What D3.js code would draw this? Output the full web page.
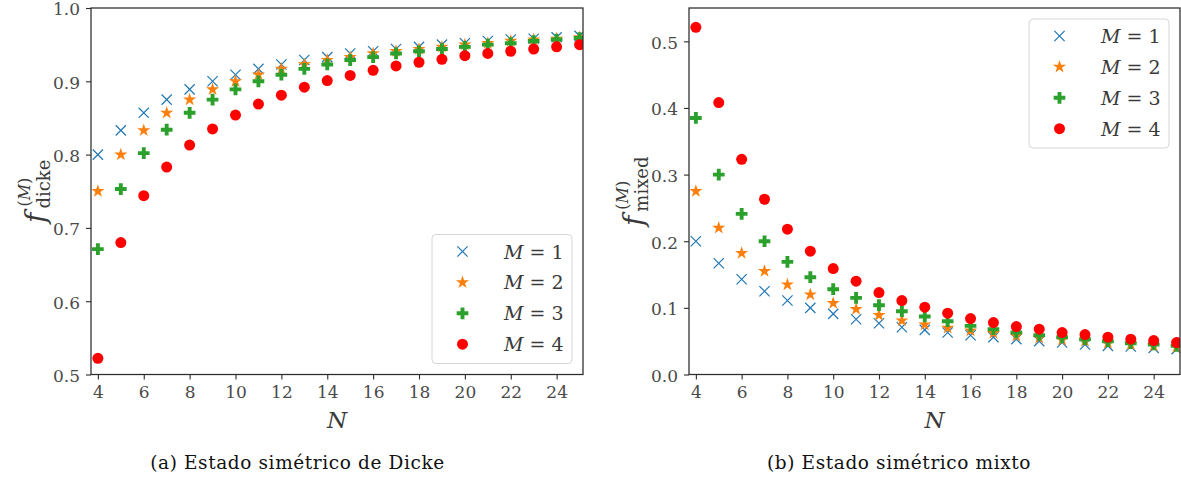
<!DOCTYPE html>
<html>
<head>
<meta charset="utf-8">
<script src="https://cdn.jsdelivr.net/npm/d3@7"></script>
<style>
  body { margin: 0; background: #fff; }
  svg { display: block; }
  text { font-family: "DejaVu Serif", "Liberation Serif", serif; }
</style>
</head>
<body>
<svg id="fig" width="1181" height="480"></svg>
<script>
// Number of qubits N
const nValues = [4, 5, 6, 7, 8, 9, 10, 11, 12, 13, 14, 15, 16, 17, 18, 19, 20, 21, 22, 23, 24, 25];

// f_dicke^(M)
const dickeM1 = [0.800, 0.833, 0.857, 0.875, 0.889, 0.900, 0.909, 0.917, 0.923, 0.929, 0.933, 0.938, 0.941, 0.944, 0.947, 0.950, 0.952, 0.955, 0.957, 0.958, 0.960, 0.962];
const dickeM2 = [0.750, 0.800, 0.833, 0.857, 0.875, 0.889, 0.900, 0.909, 0.917, 0.923, 0.929, 0.933, 0.938, 0.941, 0.944, 0.947, 0.950, 0.952, 0.955, 0.957, 0.958, 0.960];
const dickeM3 = [0.671, 0.753, 0.802, 0.834, 0.857, 0.875, 0.889, 0.900, 0.909, 0.917, 0.923, 0.929, 0.933, 0.938, 0.941, 0.944, 0.947, 0.950, 0.952, 0.955, 0.957, 0.959];
const dickeM4 = [0.522, 0.680, 0.744, 0.783, 0.813, 0.835, 0.854, 0.869, 0.881, 0.892, 0.901, 0.908, 0.915, 0.921, 0.926, 0.930, 0.935, 0.938, 0.941, 0.944, 0.947, 0.950];

// f_mixed^(M)
const mixedM1 = [0.200, 0.167, 0.143, 0.125, 0.111, 0.100, 0.091, 0.083, 0.077, 0.071, 0.067, 0.063, 0.059, 0.056, 0.053, 0.050, 0.048, 0.045, 0.043, 0.042, 0.040, 0.038];
const mixedM2 = [0.275, 0.220, 0.182, 0.155, 0.135, 0.120, 0.107, 0.098, 0.089, 0.081, 0.075, 0.070, 0.066, 0.062, 0.058, 0.055, 0.052, 0.050, 0.047, 0.045, 0.043, 0.041];
const mixedM3 = [0.385, 0.300, 0.241, 0.200, 0.169, 0.146, 0.128, 0.115, 0.104, 0.095, 0.087, 0.080, 0.073, 0.068, 0.063, 0.059, 0.056, 0.053, 0.050, 0.047, 0.045, 0.043];
const mixedM4 = [0.521, 0.408, 0.323, 0.263, 0.218, 0.185, 0.159, 0.140, 0.123, 0.111, 0.101, 0.092, 0.084, 0.078, 0.072, 0.068, 0.063, 0.060, 0.056, 0.053, 0.051, 0.048];

// Tick labels
const xTicks = [4, 6, 8, 10, 12, 14, 16, 18, 20, 22, 24];
const dickeTicks = [0.5, 0.6, 0.7, 0.8, 0.9, 1.0];
const mixedTicks = [0.0, 0.1, 0.2, 0.3, 0.4, 0.5];

// Series labels (value of M)
const mLabels = ["1", "2", "3", "4"];

const svg = d3.select("#fig");
const tickColor = "#4a4a4a";
const labelColor = "#3a3a3a";
const spineColor = "#2b2b2b";

// marker styles per series: x, star, filled plus, circle
const markerStyles = [
  { type: d3.symbolTimes, size: 70, fill: "none", stroke: "#1f77b4", sw: 1.2 },
  { type: d3.symbolStar, size: 54, fill: "#ff7f0e", stroke: "none", sw: 0 },
  { type: d3.symbolCross, size: 76, fill: "#2ca02c", stroke: "none", sw: 0 },
  { type: d3.symbolCircle, size: 95, fill: "#ff0000", stroke: "none", sw: 0 }
];

function drawMarker(sel, st) {
  sel.attr("d", d3.symbol().type(st.type).size(st.size))
     .attr("fill", st.fill)
     .attr("stroke", st.stroke)
     .attr("stroke-width", st.sw);
}

function panel(opts) {
  const { left, right, top, bottom, yDomain, yTicks, series, id, sub, legendPos, caption, captionX } = opts;
  const x = d3.scaleLinear().domain([3.7, 25.15]).range([left, right]);
  const y = d3.scaleLinear().domain(yDomain).range([bottom, top]);
  const g = svg.append("g");

  // clip region for markers
  svg.append("clipPath").attr("id", "clip-" + id)
    .append("rect").attr("x", left).attr("y", top)
    .attr("width", right - left).attr("height", bottom - top);

  // axes
  const xAxis = g.append("g").attr("transform", `translate(0,${bottom})`)
    .call(d3.axisBottom(x).tickValues(xTicks).tickFormat(d3.format("d"))
      .tickSize(5).tickSizeOuter(0).tickPadding(5));
  const yAxis = g.append("g").attr("transform", `translate(${left},0)`)
    .call(d3.axisLeft(y).tickValues(yTicks).tickFormat(d3.format(".1f"))
      .tickSize(5).tickSizeOuter(0).tickPadding(6));
  [xAxis, yAxis].forEach(a => {
    a.select(".domain").remove();
    a.selectAll(".tick line").attr("stroke", spineColor).attr("stroke-width", 1.1);
    a.selectAll(".tick text").attr("fill", tickColor).style("font-size", "17px")
      .style("font-family", '"DejaVu Serif", serif');
  });
  yAxis.selectAll(".tick text").attr("dy", "0.4em");
  xAxis.selectAll(".tick text").attr("dy", "0.78em");

  // markers
  const pts = g.append("g").attr("clip-path", `url(#clip-${id})`);
  series.forEach((vals, si) => {
    pts.append("g").selectAll("path").data(vals).join("path")
      .attr("transform", (d, i) => `translate(${x(nValues[i])},${y(d)})`)
      .call(drawMarker, markerStyles[si]);
  });

  // spines
  g.append("rect").attr("x", left).attr("y", top)
    .attr("width", right - left).attr("height", bottom - top)
    .attr("fill", "none").attr("stroke", spineColor).attr("stroke-width", 1.25);

  // x label
  g.append("text").attr("x", (left + right) / 2).attr("y", bottom + 53)
    .attr("text-anchor", "middle").attr("fill", labelColor)
    .style("font-size", "23px").style("font-style", "italic").text("N");

  // y label: f^(M)_sub, rotated
  const lab = g.append("g")
    .attr("transform", `translate(${left - 46},${(top + bottom) / 2}) rotate(-90)`);
  const fT = lab.append("text").attr("y", 0).attr("fill", labelColor)
    .style("font-size", "28px").style("font-style", "italic").text("f");
  const sT = lab.append("text").attr("y", 5).attr("fill", labelColor)
    .style("font-size", "18px").text(sub);
  const pT = lab.append("text").attr("y", -15).attr("fill", labelColor)
    .style("font-size", "16px");
  pT.append("tspan").text("(");
  pT.append("tspan").style("font-style", "italic").text("M");
  pT.append("tspan").text(")");
  const fw = fT.node().getComputedTextLength() + 4;
  const sw = sT.node().getComputedTextLength();
  const x0 = -(fw + sw) / 2;
  fT.attr("x", x0);
  sT.attr("x", x0 + fw);
  pT.attr("x", x0 + fw + 2);

  // legend
  const lw = 140, lh = 129;
  const lx = right - 11 - lw;
  const ly = legendPos === "top" ? top + 11 : bottom - 11 - lh;
  const leg = g.append("g").attr("transform", `translate(${lx},${ly})`);
  leg.append("rect").attr("width", lw).attr("height", lh).attr("rx", 4)
    .attr("fill", "#fff").attr("fill-opacity", 0.8)
    .attr("stroke", "#d6d6d6").attr("stroke-width", 1);
  mLabels.forEach((m, i) => {
    const ey = 17 + i * 30.9;
    leg.append("path").attr("transform", `translate(30.5,${ey})`).call(drawMarker, markerStyles[i]);
    const t = leg.append("text").attr("x", 72).attr("y", ey + 7).attr("fill", labelColor)
      .style("font-size", "19px");
    t.append("tspan").style("font-style", "italic").text("M");
    t.append("tspan").text(" = " + m);
  });

  // caption
  svg.append("text").attr("x", captionX).attr("y", 469).attr("text-anchor", "middle")
    .attr("fill", "#111").style("font-size", "18.5px").style("letter-spacing", "0.6px")
    .text(caption);
}

panel({
  id: "a", left: 91, right: 583, top: 8, bottom: 374.5,
  yDomain: [0.5, 1.0], yTicks: dickeTicks,
  series: [dickeM1, dickeM2, dickeM3, dickeM4],
  sub: "dicke", legendPos: "bottom",
  caption: "(a) Estado simétrico de Dicke", captionX: 297.5
});

panel({
  id: "b", left: 689, right: 1180, top: 8, bottom: 374.5,
  yDomain: [0, 0.55], yTicks: mixedTicks,
  series: [mixedM1, mixedM2, mixedM3, mixedM4],
  sub: "mixed", legendPos: "top",
  caption: "(b) Estado simétrico mixto", captionX: 899
});
</script>
</body>
</html>
